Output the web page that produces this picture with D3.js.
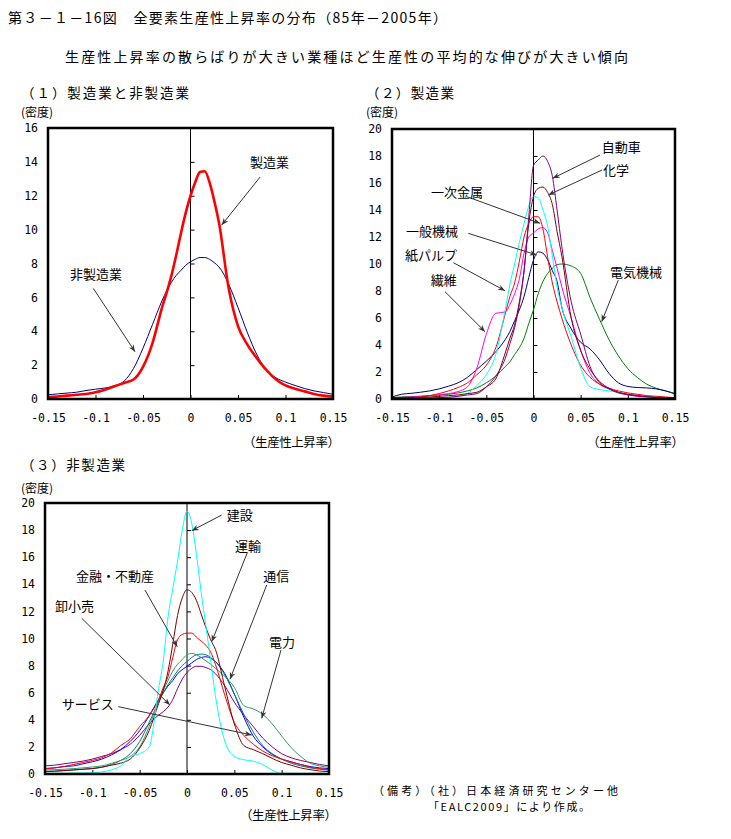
<!DOCTYPE html>
<html><head><meta charset="utf-8">
<script src="https://cdn.jsdelivr.net/npm/d3@7"></script>
<style>
body{margin:0;background:#fff}
text{font-family:"Noto Sans CJK JP","Noto Sans CJK SC",sans-serif;fill:#000}
.tick text{font-family:"DejaVu Sans Mono",monospace}
</style>
</head><body><svg id="c" width="731" height="839"></svg>
<script>
// ---------- data ----------
const xGrid = [-0.15,-0.14,-0.13,-0.12,-0.11,-0.10,-0.09,-0.08,-0.07,-0.06,-0.05,-0.04,-0.03,-0.025,-0.02,-0.015,-0.01,-0.005,0,0.005,0.01,0.015,0.02,0.025,0.03,0.04,0.05,0.06,0.07,0.08,0.09,0.10,0.11,0.12,0.13,0.14,0.15];
const xTicks = [-0.15,-0.1,-0.05,0,0.05,0.1,0.15];
const yTicks1 = [0,2,4,6,8,10,12,14,16];
const yTicks2 = [0,2,4,6,8,10,12,14,16,18,20];

// (1) 製造業と非製造業
const p1Names = ["非製造業","製造業"];
const p1NonMfg = [0.25,0.3,0.35,0.4,0.5,0.58,0.65,0.78,1.05,1.8, 3.0,4.4,5.8, 6.4,6.9,7.3,7.6,7.9,8.1,8.25,8.35,8.35,8.25,8.05,7.8, 6.8,5.4,3.9,2.6,1.7,1.25,1.0,0.8,0.62,0.48,0.38,0.28];
const p1Mfg = [0.1,0.15,0.2,0.25,0.3,0.4,0.55,0.75,0.95,1.15, 1.9,3.3,5.4, 6.3,7.3,8.5,9.8,11.0,12.0,12.8,13.4,13.45,12.8,11.7,10.4, 6.6,4.3,3.2,2.4,1.7,1.15,0.8,0.6,0.45,0.3,0.2,0.14];

// (2) 製造業
const p2Names = ["電気機械","一般機械","繊維","一次金属","紙パルプ","化学","自動車"];
const p2Electrical = [0.12,0.15,0.18,0.2,0.25,0.3,0.35,0.45,0.6,0.82, 1.2,1.7,2.4, 2.75,3.3,3.8,4.5,5.6,6.6,7.8,8.7,9.3,9.7,9.95,10.0, 9.85,9.3,7.5,5.9,4.4,3.2,2.25,1.6,1.1,0.8,0.6,0.42];
const p2Machinery = [0.15,0.35,0.42,0.5,0.6,0.75,0.95,1.2,1.6,2.2, 2.8,3.5,4.4, 5.0,5.8,6.6,7.6,9.0,10.3,10.9,10.8,10.3,9.5,8.7,6.8, 5.2,4.2,3.7,2.9,1.9,1.2,0.93,0.85,0.82,0.75,0.6,0.37];
const p2Textile = [0.1,0.12,0.15,0.2,0.25,0.3,0.4,0.55,0.9,2.3, 4.8,6.35,6.45, 7.0,7.8,8.9,10.8,12.0,12.3,12.6,12.7,12.3,11.0,9.7,8.3, 6.0,3.6,1.9,1.1,0.75,0.5,0.35,0.28,0.2,0.15,0.1,0.08];
const p2Metals = [0.05,0.08,0.1,0.15,0.25,0.4,0.6,0.85,1.2,1.8, 2.5,3.8,6.3, 7.6,8.6,10.2,12.0,13.0,13.5,13.5,12.6,10.5,8.6,7.2,6.0, 4.0,2.5,1.6,1.1,0.8,0.6,0.45,0.35,0.25,0.2,0.15,0.1];
const p2Pulp = [0.02,0.05,0.05,0.05,0.05,0.05,0.1,0.2,0.4,1.0, 1.8,3.3,6.6, 8.5,10.0,11.6,13.0,14.3,15.0,14.9,14.0,12.8,10.6,8.3,6.8, 4.6,2.3,0.9,0.7,0.6,0.5,0.35,0.25,0.18,0.12,0.05,0.02];
const p2Chemical = [0.1,0.1,0.1,0.12,0.15,0.2,0.25,0.3,0.4,0.5, 0.9,1.5,3.4, 4.5,5.5,7.2,9.5,13.0,15.0,15.6,15.7,15.3,14.4,12.4,10.6, 6.0,3.6,2.2,1.3,0.8,0.5,0.35,0.25,0.18,0.12,0.1,0.08];
const p2Auto = [0.05,0.05,0.05,0.07,0.08,0.1,0.13,0.2,0.3,0.4, 0.9,1.7,3.0, 4.1,5.3,7.0,9.5,13.5,17.3,17.7,18.0,17.6,16.5,14.0,11.3, 7.2,4.8,2.4,1.2,0.75,0.45,0.3,0.2,0.15,0.1,0.08,0.05];

// (3) 非製造業
const p3Names = ["卸小売","サービス","通信","電力","金融・不動産","運輸","建設"];
const p3Wholesale = [0.6,0.65,0.75,0.85,0.95,1.1,1.3,1.5,1.8,2.2, 2.85,3.7,4.35, 4.6,4.95,5.5,6.3,7.0,7.5,7.8,7.95,7.95,7.85,7.7,7.4, 6.5,5.3,4.35,3.5,2.65,2.0,1.5,1.2,1.0,0.85,0.7,0.6];
const p3Service = [0.4,0.45,0.55,0.6,0.75,0.9,1.1,1.4,1.8,2.4, 3.2,4.3,5.5, 6.0,6.5,6.9,7.4,7.7,7.95,8.2,8.45,8.6,8.65,8.55,8.3, 7.4,5.9,4.2,2.8,2.0,1.45,1.1,0.9,0.7,0.55,0.45,0.4];
const p3Telecom = [0.2,0.22,0.25,0.3,0.35,0.4,0.5,0.7,1.0,1.5, 2.4,3.8,5.3, 6.0,6.6,7.1,7.6,8.0,8.3,8.6,8.8,8.85,8.8,8.6,8.3, 7.3,5.9,4.4,3.1,2.1,1.5,1.1,0.8,0.6,0.45,0.35,0.28];
const p3Power = [0.3,0.32,0.35,0.4,0.45,0.52,0.6,0.78,1.0,1.3, 2.0,3.5,5.4, 6.2,6.9,7.6,8.1,8.45,8.8,8.9,8.8,8.6,8.35,8.1,7.8, 7.2,6.4,5.05,4.8,4.4,3.7,2.8,1.95,1.3,0.8,0.6,0.5];
const p3Finance = [0.4,0.45,0.55,0.7,0.85,1.0,1.2,1.55,2.1,2.6, 3.5,4.3,5.5, 6.4,7.2,8.6,9.9,10.3,10.4,10.4,10.1,9.8,9.5,9.0,8.1, 5.8,3.8,2.85,2.2,1.7,1.35,1.1,0.88,0.7,0.5,0.4,0.3];
const p3Transport = [0.17,0.2,0.25,0.3,0.35,0.4,0.5,0.65,0.8,1.1, 1.9,3.2,5.2, 6.2,7.6,9.6,11.7,13.0,13.6,13.4,12.8,11.8,10.8,9.9,9.2, 6.4,3.7,2.1,1.8,1.5,1.15,0.85,0.65,0.45,0.32,0.22,0.17];
const p3Construction = [0.05,0.05,0.05,0.07,0.08,0.1,0.15,0.3,0.6,1.3, 1.5,2.0,6.3, 8.4,11.6,13.7,15.7,18.0,19.4,18.5,16.2,13.4,10.9,8.4,5.8, 2.4,1.3,1.05,0.95,0.7,0.28,0.05,0.05,0.05,0.05,0.05,0.05];

// ---------- drawing ----------
const svg = d3.select("#c");
svg.append("rect").attr("width",731).attr("height",839).attr("fill","#fff");

const defs = svg.append("defs");
defs.append("marker").attr("id","ah").attr("viewBox","0 0 10 10")
  .attr("refX",10).attr("refY",5).attr("markerWidth",7).attr("markerHeight",7)
  .attr("markerUnits","userSpaceOnUse").attr("orient","auto")
  .append("path").attr("d","M0,1 L10,5 L0,9 L3,5 Z").attr("fill","#333");

function fmtX(d){ return d===0 ? "0" : String(+d.toFixed(2)); }

function drawPanel(cfg, idx){
  const g = svg.append("g");
  const x = d3.scaleLinear().domain([-0.15,0.15]).range([cfg.left,cfg.right]);
  const y = d3.scaleLinear().domain([0,cfg.yMax]).range([cfg.bottom,cfg.top]);
  const cid = "clip"+idx;
  defs.append("clipPath").attr("id",cid).append("rect")
    .attr("x",cfg.left).attr("y",cfg.top).attr("width",cfg.right-cfg.left).attr("height",cfg.bottom-cfg.top);

  // zero line
  g.append("line").attr("x1",x(0)).attr("x2",x(0)).attr("y1",y(cfg.yMax)).attr("y2",y(0))
    .attr("stroke","#000").attr("stroke-width",1);
  // inner ticks on zero line
  const zt = g.append("g").attr("transform",`translate(${x(0)},0)`)
    .call(d3.axisRight(y).tickValues(cfg.yTicks).tickSize(4).tickFormat(""));
  zt.select(".domain").remove();
  zt.selectAll("line").attr("stroke","#000");
  // inner ticks on bottom
  const bt = g.append("g").attr("transform",`translate(0,${y(0)})`)
    .call(d3.axisTop(x).tickValues(xTicks).tickSize(4).tickFormat(""));
  bt.select(".domain").remove();

  const line = d3.line().x((d,i)=>x(xGrid[i])).y(d=>y(d)).curve(d3.curveMonotoneX);
  const lg = g.append("g").attr("clip-path",`url(#${cid})`);
  cfg.series.forEach(s=>{
    lg.append("path").datum(s.values).attr("d",line)
      .attr("fill","none").attr("stroke",s.color).attr("stroke-width",s.width||1)
      .attr("stroke-linejoin","round");
  });

  // frame
  g.append("rect").attr("x",cfg.left).attr("y",cfg.top)
    .attr("width",cfg.right-cfg.left).attr("height",cfg.bottom-cfg.top)
    .attr("fill","none").attr("stroke","#000").attr("stroke-width",2.5);

  // y labels
  const ya = g.append("g").attr("transform",`translate(${cfg.left},0)`)
    .call(d3.axisLeft(y).tickValues(cfg.yTicks).tickSize(0).tickPadding(10).tickFormat(d3.format("d")));
  ya.select(".domain").remove();
  ya.selectAll("text").attr("font-size",11.5).attr("font-family","DejaVu Sans Mono");
  // x labels
  const xa = g.append("g").attr("transform",`translate(0,${cfg.bottom})`)
    .call(d3.axisBottom(x).tickValues(xTicks).tickSize(0).tickPadding(15).tickFormat(fmtX));
  xa.select(".domain").remove();
  xa.selectAll("text").attr("font-size",11.5).attr("font-family","DejaVu Sans Mono");

  // titles
  svg.append("text").attr("x",cfg.titleX).attr("y",cfg.titleY).attr("font-size",13.5)
    .attr("textLength",cfg.titleLen).attr("lengthAdjust","spacing").text(cfg.title);
  svg.append("text").attr("x",cfg.titleX).attr("y",cfg.densY).attr("font-size",12)
    .text("(密度)");
  svg.append("text").attr("x",cfg.xlabX).attr("y",cfg.xlabY).attr("font-size",12.5)
    .attr("textLength",97).attr("lengthAdjust","spacing").text("（生産性上昇率）");

  // annotations
  cfg.notes.forEach(n=>{
    g.append("line").attr("x1",x(n.from[0])).attr("y1",y(n.from[1]))
      .attr("x2",x(n.to[0])).attr("y2",y(n.to[1]))
      .attr("stroke","#333").attr("stroke-width",1).attr("marker-end","url(#ah)");
    g.append("text").attr("x",x(n.at[0])).attr("y",y(n.at[1])).attr("font-size",13).text(n.label);
  });
}

drawPanel({
  left:48,right:333,top:128,bottom:399,yMax:16,yTicks:yTicks1,
  title:"（１）製造業と非製造業",titleX:21,titleY:98,densY:117,titleLen:168,
  xlabX:243,xlabY:447,
  series:[{values:p1NonMfg,color:"#000080"},{values:p1Mfg,color:"#ff0000",width:2.6}],
  notes:[
    {label:p1Names[1],at:[0.0626,13.7],from:[0.0732,13.1],to:[0.0328,10.27]},
    {label:p1Names[0],at:[-0.1268,7.08],from:[-0.1023,6.53],to:[-0.0584,2.79]}
  ]
},1);

drawPanel({
  left:392,right:675,top:129,bottom:399,yMax:20,yTicks:yTicks2,
  title:"（２）製造業",titleX:366,titleY:98,densY:117,titleLen:88,
  xlabX:587,xlabY:447,
  series:[
    {values:p2Electrical,color:"#008000"},
    {values:p2Machinery,color:"#000080"},
    {values:p2Textile,color:"#ff00ff"},
    {values:p2Metals,color:"#ff0000"},
    {values:p2Pulp,color:"#00ffff"},
    {values:p2Chemical,color:"#800000"},
    {values:p2Auto,color:"#800080"}
  ],
  notes:[
    {label:p2Names[6],at:[0.0723,18.33],from:[0.0705,18.07],to:[0.0204,16.35]},
    {label:p2Names[5],at:[0.0737,16.56],from:[0.0726,16.96],to:[0.0157,15.11]},
    {label:p2Names[3],at:[-0.1087,15.0],from:[-0.0708,14.99],to:[0.0069,13.01]},
    {label:p2Names[1],at:[-0.1352,12.04],from:[-0.0691,12.27],to:[0.0034,10.67]},
    {label:p2Names[4],at:[-0.1362,10.33],from:[-0.085,10.1],to:[-0.0302,8.02]},
    {label:p2Names[2],at:[-0.109,8.41],from:[-0.0938,7.95],to:[-0.0514,4.99]},
    {label:p2Names[0],at:[0.0811,9.07],from:[0.0899,8.81],to:[0.0723,5.73]}
  ]
},2);

drawPanel({
  left:45,right:329,top:503,bottom:774,yMax:20,yTicks:yTicks2,
  title:"（３）非製造業",titleX:21,titleY:470,densY:493,titleLen:104,
  xlabX:240,xlabY:820,
  series:[
    {values:p3Wholesale,color:"#800080"},
    {values:p3Service,color:"#0000ff"},
    {values:p3Telecom,color:"#008080"},
    {values:p3Power,color:"#339966"},
    {values:p3Finance,color:"#ff0000"},
    {values:p3Transport,color:"#800000"},
    {values:p3Construction,color:"#00ffff"}
  ],
  notes:[
    {label:p3Names[6],at:[0.0419,18.71],from:[0.0366,19.11],to:[0.005,17.96]},
    {label:p3Names[5],at:[0.0507,16.46],from:[0.0637,16.33],to:[0.0261,9.76]},
    {label:p3Names[2],at:[0.0806,14.28],from:[0.0842,13.95],to:[0.0454,6.99]},
    {label:p3Names[3],at:[0.0866,9.37],from:[0.0993,9.15],to:[0.0789,4.11]},
    {label:p3Names[4],at:[-0.1173,14.28],from:[-0.0444,13.58],to:[-0.0103,9.39]},
    {label:p3Names[0],at:[-0.1394,12.03],from:[-0.1112,11.49],to:[-0.018,5.09]},
    {label:p3Names[1],at:[-0.1324,4.83],from:[-0.0726,4.97],to:[0.0683,2.88]}
  ]
},3);

// headings
svg.append("text").attr("x",8).attr("y",23).attr("font-size",14)
  .attr("textLength",439).attr("lengthAdjust","spacing")
  .text("第３－１－16図　全要素生産性上昇率の分布（85年－2005年）");
svg.append("text").attr("x",65).attr("y",62).attr("font-size",14)
  .attr("textLength",563).attr("lengthAdjust","spacing")
  .text("生産性上昇率の散らばりが大きい業種ほど生産性の平均的な伸びが大きい傾向");

// source note
svg.append("text").attr("x",373).attr("y",795).attr("font-size",11)
  .attr("textLength",245).attr("lengthAdjust","spacing")
  .text("（備考）（社）日本経済研究センター他");
svg.append("text").attr("x",428).attr("y",811).attr("font-size",11)
  .attr("textLength",162).attr("lengthAdjust","spacing")
  .text("「EALC2009」により作成。");
</script></body></html>
